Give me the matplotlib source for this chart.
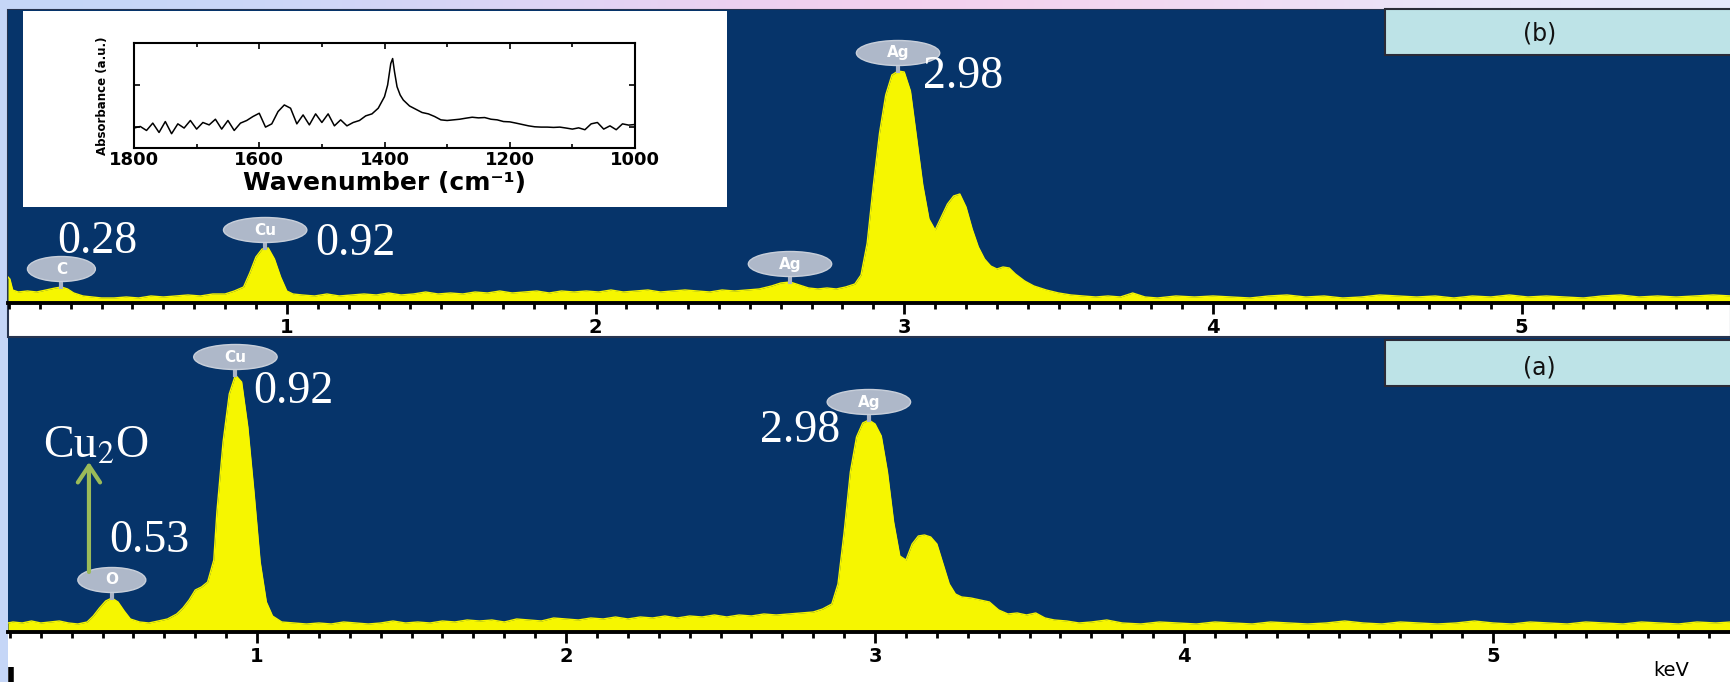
import numpy as np
import matplotlib.pyplot as plt
from matplotlib.patches import Rectangle, Ellipse
from matplotlib.ticker import MultipleLocator

# EDS spectrum (b): energy (keV) and counts (a.u.)
kev_b = [0.097, 0.103, 0.112, 0.13, 0.16, 0.19, 0.22, 0.25, 0.27, 0.29, 0.31, 0.34, 0.37, 0.40,
         0.44, 0.48, 0.52, 0.56, 0.60, 0.64, 0.68, 0.72, 0.76, 0.80, 0.83, 0.86, 0.88, 0.90,
         0.92, 0.94, 0.96, 0.98, 1.00, 1.02, 1.05, 1.09, 1.13, 1.17, 1.21, 1.25, 1.29, 1.33,
         1.37, 1.41, 1.45, 1.49, 1.53, 1.57, 1.61, 1.65, 1.69, 1.73, 1.77, 1.81, 1.85, 1.89,
         1.93, 1.97, 2.01, 2.05, 2.09, 2.13, 2.17, 2.21, 2.25, 2.29, 2.33, 2.37, 2.41, 2.45,
         2.49, 2.53, 2.57, 2.60, 2.63, 2.66, 2.69, 2.72, 2.75, 2.78, 2.81, 2.84, 2.86, 2.88,
         2.90, 2.92, 2.94, 2.96, 2.98, 3.00, 3.02, 3.04, 3.06, 3.08, 3.10, 3.12, 3.14, 3.16,
         3.18, 3.20, 3.22, 3.24, 3.26, 3.28, 3.30, 3.32, 3.34, 3.36, 3.39, 3.42, 3.46, 3.50,
         3.54, 3.58, 3.62, 3.66, 3.70, 3.74, 3.78, 3.82, 3.88, 3.94, 4.00, 4.06, 4.12, 4.18,
         4.24, 4.30, 4.36, 4.42, 4.48, 4.54, 4.60, 4.66, 4.72, 4.78, 4.84, 4.90, 4.96, 5.02,
         5.08, 5.14, 5.20, 5.26, 5.32, 5.38, 5.44, 5.50, 5.56, 5.62, 5.68]
counts_b = [26, 24, 13, 11, 12, 11, 13, 15, 16, 14, 10, 7, 6, 5,
            5, 6, 5, 7, 6, 7, 8, 7, 9, 9, 12, 16, 30, 46,
            54, 55, 44, 26, 12, 9, 8, 7, 9, 7, 8, 9, 8, 10,
            8, 9, 11, 9, 10, 9, 11, 10, 12, 10, 11, 12, 10, 12,
            11, 12, 11, 13, 11, 12, 13, 11, 12, 13, 12, 11, 13, 12,
            13, 14, 17, 20, 21, 18, 15, 14, 15, 14, 16, 19, 28, 60,
            118, 170, 208, 228, 232, 231, 212, 165, 118, 84, 73, 86, 99, 107,
            109, 96, 74, 56, 44, 37, 34, 36, 35, 29, 22, 17, 13, 10,
            8, 7, 6, 7, 6, 10, 6, 5, 7, 6, 7, 6, 5, 7,
            8, 6, 7, 5, 6, 8, 7, 6, 7, 5, 7, 6, 8, 6,
            7, 6, 5, 7, 8, 6, 7, 6, 7, 8, 7]

# EDS spectrum (a)
kev_a = [0.194, 0.21, 0.24, 0.27, 0.30, 0.33, 0.36, 0.39, 0.42, 0.45, 0.47, 0.49, 0.51, 0.53,
         0.55, 0.57, 0.59, 0.62, 0.65, 0.68, 0.71, 0.74, 0.76, 0.78, 0.80, 0.82, 0.84, 0.86,
         0.87, 0.89, 0.91, 0.93, 0.95, 0.97, 0.99, 1.01, 1.03, 1.05, 1.08, 1.12, 1.16, 1.20,
         1.24, 1.28, 1.32, 1.36, 1.40, 1.44, 1.48, 1.52, 1.56, 1.60, 1.64, 1.68, 1.72, 1.76,
         1.80, 1.84, 1.88, 1.92, 1.96, 2.00, 2.04, 2.08, 2.12, 2.16, 2.20, 2.24, 2.28, 2.32,
         2.36, 2.40, 2.44, 2.48, 2.52, 2.56, 2.60, 2.64, 2.68, 2.72, 2.76, 2.80, 2.83, 2.86,
         2.88, 2.90, 2.92, 2.94, 2.96, 2.98, 3.00, 3.02, 3.04, 3.06, 3.08, 3.10, 3.12, 3.14,
         3.16, 3.18, 3.20, 3.22, 3.24, 3.26, 3.28, 3.31, 3.34, 3.37, 3.40, 3.43, 3.46, 3.49,
         3.52, 3.55, 3.58, 3.62, 3.66, 3.70, 3.75, 3.80, 3.86, 3.92, 3.98, 4.04, 4.10, 4.16,
         4.22, 4.28, 4.34, 4.40, 4.46, 4.52, 4.58, 4.64, 4.70, 4.76, 4.82, 4.88, 4.94, 5.00,
         5.06, 5.12, 5.18, 5.24, 5.30, 5.36, 5.42, 5.48, 5.54, 5.60, 5.66, 5.72, 5.77]
counts_a = [9, 10, 9, 11, 9, 10, 11, 9, 8, 10, 16, 24, 31, 34,
            30, 21, 13, 10, 9, 11, 13, 18, 24, 32, 42, 45, 50, 72,
            120, 190, 238, 257, 250, 205, 140, 70, 30, 16, 10, 9, 8, 9,
            8, 10, 9, 8, 9, 11, 9, 10, 9, 11, 10, 12, 11, 12,
            10, 13, 12, 11, 14, 13, 12, 14, 13, 15, 13, 15, 14, 16,
            14, 16, 15, 17, 15, 17, 16, 18, 17, 18, 19, 20, 23, 28,
            48, 100, 160, 195, 209, 212, 208, 196, 160, 110, 76, 72, 88, 96,
            97, 95, 88, 68, 48, 38, 35, 34, 32, 30, 22, 18, 19, 17,
            19, 14, 12, 11, 9, 10, 12, 9, 8, 10, 9, 8, 10, 9,
            8, 10, 9, 8, 9, 11, 9, 8, 10, 9, 8, 9, 11, 9,
            8, 10, 9, 8, 10, 9, 8, 10, 9, 8, 10, 9, 10]

# element markers
lines_b = ['C', 'Cu', 'Ag', 'Ag']
energies_b = [0.27, 0.93, 2.63, 2.98]
lines_a = ['O', 'Cu', 'Ag']
energies_a = [0.53, 0.93, 2.98]

# FTIR inset
wn_ftir = [1800, 1790, 1780, 1770, 1760, 1750, 1740, 1730, 1720, 1710, 1700, 1690, 1680, 1670,
           1660, 1650, 1640, 1630, 1620, 1610, 1600, 1590, 1580, 1570, 1560, 1550, 1540, 1530,
           1520, 1510, 1500, 1490, 1480, 1470, 1460, 1450, 1440, 1430, 1420, 1410, 1400, 1395,
           1390, 1387, 1384, 1380, 1375, 1370, 1360, 1350, 1340, 1330, 1320, 1310, 1300, 1290,
           1280, 1270, 1260, 1250, 1240, 1230, 1220, 1210, 1200, 1190, 1180, 1170, 1160, 1150,
           1140, 1130, 1120, 1110, 1100, 1090, 1080, 1070, 1060, 1050, 1040, 1030, 1020, 1010, 1000]
abs_ftir = [0.19, 0.205, 0.167, 0.237, 0.148, 0.252, 0.136, 0.23, 0.19, 0.262, 0.18, 0.243, 0.22, 0.274,
            0.18, 0.262, 0.167, 0.237, 0.262, 0.30, 0.331, 0.199, 0.23, 0.347, 0.41, 0.379, 0.23, 0.315,
            0.22, 0.325, 0.243, 0.325, 0.211, 0.268, 0.211, 0.243, 0.262, 0.306, 0.325, 0.379, 0.489, 0.60,
            0.804, 0.852, 0.726, 0.584, 0.505, 0.457, 0.40, 0.369, 0.338, 0.325, 0.30, 0.268, 0.262, 0.268,
            0.274, 0.284, 0.293, 0.287, 0.29, 0.274, 0.268, 0.252, 0.249, 0.237, 0.224, 0.211, 0.202, 0.199,
            0.199, 0.196, 0.199, 0.19, 0.18, 0.192, 0.174, 0.23, 0.243, 0.18, 0.211, 0.174, 0.23, 0.218, 0.224]

W, H = 1731, 682
NAVY = '#06346a'
YELLOW = '#f6f600'

plt.rcParams['mathtext.fontset'] = 'stix'

fig = plt.figure(figsize=(W / 100, H / 100), dpi=100)


def frect(x0, y0, x1, y1):
    # pixel box (from top-left) -> figure fraction
    return [x0 / W, 1 - y1 / H, (x1 - x0) / W, (y1 - y0) / H]


# slide background behind the picture
ax_bg = fig.add_axes([0, 0, 1, 1], zorder=-5)
grad = np.array([[[0.77, 0.84, 0.97], [0.86, 0.84, 0.97], [0.97, 0.80, 0.92],
                  [0.95, 0.86, 0.95], [0.90, 0.91, 0.99]]])
ax_bg.imshow(grad, extent=(0, W, H, 0), aspect='auto', interpolation='bicubic')
ax_bg.set_xlim(0, W)
ax_bg.set_ylim(H, 0)
ax_bg.axis('off')
ax_bg.add_patch(Rectangle((8, 10), W - 8, H - 10, fc='white', ec='none'))
ax_bg.add_patch(Rectangle((8, 10), W - 8, 327, fc='none', ec='#27344f', lw=1.5))
ax_bg.plot([11, 11], [667, 682], color='black', lw=4, solid_capstyle='butt')


def draw_panel(ax, kev, counts, xlim, ymax, lines, energies, tag, box_y, tag_y):
    ax.set_facecolor(NAVY)
    ax.fill_between(kev, 0, counts, color=YELLOW, lw=0)
    ax.plot(kev, counts, color=YELLOW, lw=1)
    ax.set_xlim(*xlim)
    ax.set_ylim(0, ymax)
    for s in ['left', 'right', 'top']:
        ax.spines[s].set_visible(False)
    ax.spines['bottom'].set_linewidth(2.8)
    ax.spines['bottom'].set_color('black')
    ax.set_yticks([])
    ax.xaxis.set_major_locator(MultipleLocator(1))
    ax.xaxis.set_minor_locator(MultipleLocator(0.1))
    ax.tick_params(axis='x', which='major', direction='out', length=8, width=2,
                   labelsize=14, pad=3)
    ax.tick_params(axis='x', which='minor', direction='out', length=4, width=2)
    for lab in ax.get_xticklabels():
        lab.set_fontweight('bold')

    k = np.array(kev)
    c = np.array(counts)
    for name, e in zip(lines, energies):
        top = c[np.abs(k - e) <= 0.03].max()
        ax.plot([e, e], [top, top + 8], color='#aab4c6', lw=3, zorder=4)
        w = 0.22 if len(name) == 1 else 0.27
        ax.add_patch(Ellipse((e, top + 18), w, 25, fc='#aeb8c9', ec='#c8cfda',
                             lw=1, zorder=5, clip_on=False))
        ax.text(e, top + 18, name, color='white', fontsize=11, fontweight='bold',
                ha='center', va='center', zorder=6)

    ax.add_patch(Rectangle((0.799, box_y), 0.21, 0.157, transform=ax.transAxes,
                           fc='#bde3e7', ec='#2b2b38', lw=1.5, clip_on=False, zorder=7))
    ax.text(0.889, tag_y, tag, transform=ax.transAxes, ha='center', va='center',
            fontsize=17, color='#111111', zorder=8)


ax_b = fig.add_axes(frect(8, 10, W, 303))
draw_panel(ax_b, kev_b, counts_b, (0.097, 5.678), 293, lines_b, energies_b,
           '(b)', 0.846, 0.921)

ax_a = fig.add_axes(frect(8, 338, W, 632))
draw_panel(ax_a, kev_a, counts_a, (0.194, 5.770), 294, lines_a, energies_a,
           '(a)', 0.837, 0.901)

# peak energy notes
serif = dict(family='Liberation Serif', fontsize=33, color='white', ha='left',
             va='baseline', zorder=9)
for txt, x, y in [('0.28', 0.256, 50), ('0.92', 1.091, 48), ('2.98', 3.06, 215)]:
    ax_b.text(x, y, txt, **serif)
for txt, x, y in [('0.92', 0.987, 229), ('2.98', 2.628, 190), ('0.53', 0.521, 80),
                  (r'Cu$_{2}$O', 0.307, 175)]:
    ax_a.text(x, y, txt, **serif)
ax_a.annotate('', xy=(0.456, 170), xytext=(0.456, 60),
              arrowprops=dict(arrowstyle='->,head_length=0.6,head_width=0.4',
                              color='#9bbb59', lw=3, mutation_scale=20,
                              shrinkA=0, shrinkB=0), zorder=9)

fig.text(1653 / W, 1 - 670 / H, 'keV', fontsize=14, ha='left', va='center')

# FTIR inset
fig.add_artist(Rectangle((23 / W, 1 - 207 / H), 704 / W, 196 / H,
                         transform=fig.transFigure, fc='white', ec='none', zorder=3))
ax_in = fig.add_axes(frect(134, 43, 635, 148), zorder=4)
ax_in.plot(wn_ftir, abs_ftir, color='black', lw=1.1)
ax_in.set_xlim(1800, 1000)
ax_in.set_ylim(0, 1)
ax_in.set_xticks([1800, 1600, 1400, 1200, 1000])
ax_in.xaxis.set_minor_locator(MultipleLocator(100))
ax_in.set_yticks([0.2, 0.6, 1.0])
ax_in.set_yticklabels([])
ax_in.tick_params(direction='in', top=True, right=True, length=4, width=1.2,
                  labelsize=13, pad=2)
ax_in.tick_params(which='minor', direction='in', top=True, length=3, width=1.2)
for lab in ax_in.get_xticklabels():
    lab.set_fontweight('bold')
for s in ax_in.spines.values():
    s.set_linewidth(1.5)
ax_in.set_xlabel('Wavenumber (cm⁻¹)', fontsize=18, fontweight='bold')
ax_in.xaxis.set_label_coords(0.5, -0.22)
ax_in.set_ylabel('Absorbance (a.u.)', fontsize=8.5, fontweight='bold')
ax_in.yaxis.set_label_coords(-0.05, 0.5)

plt.savefig('out.png', dpi=100)
plt.close()
